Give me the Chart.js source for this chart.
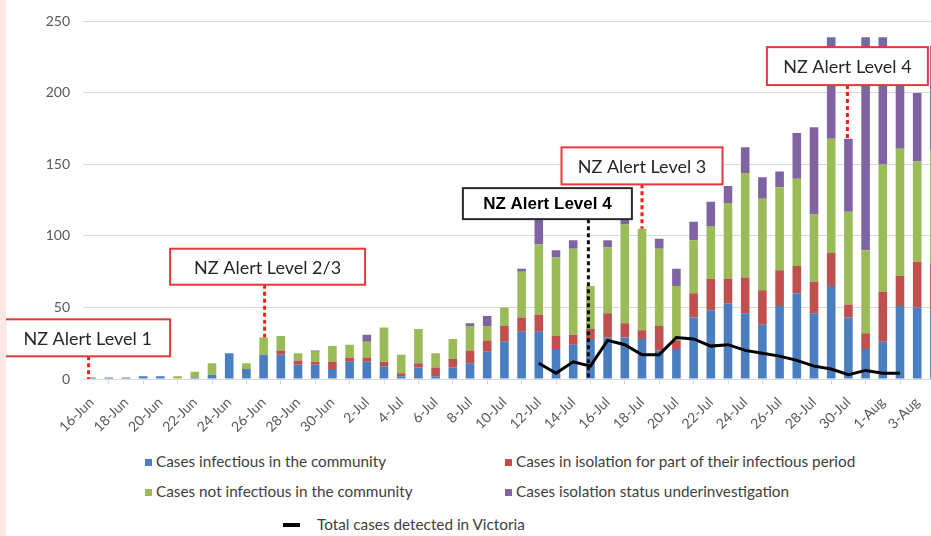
<!DOCTYPE html>
<html><head><meta charset="utf-8">
<script src="https://cdn.jsdelivr.net/npm/chart.js@4.4.1/dist/chart.umd.min.js"></script>
<style>
html,body{margin:0;padding:0;background:#fff;width:931px;height:536px;overflow:hidden;position:relative;font-family:Lato,sans-serif;}
#strip{position:absolute;left:0;top:0;width:6px;height:536px;background:#fde6e6;}
#wrap{position:absolute;left:0;top:0;width:950px;height:450px;}
.lg{position:absolute;font-size:15.3px;color:#404040;white-space:nowrap;line-height:18px;height:18px;}
.sw{display:inline-block;width:7px;height:7px;margin-right:4px;vertical-align:1px;}
.ln{display:inline-block;width:17px;height:4px;margin-right:17px;vertical-align:3px;background:#000;}
</style></head><body>
<div id="wrap"><canvas id="c" width="950" height="450"></canvas></div>
<div id="strip"></div>
<div id="legend"></div>
<script>
const dates = ['16-Jun','17-Jun','18-Jun','19-Jun','20-Jun','21-Jun','22-Jun','23-Jun','24-Jun','25-Jun','26-Jun','27-Jun','28-Jun','29-Jun','30-Jun',
 '1-Jul','2-Jul','3-Jul','4-Jul','5-Jul','6-Jul','7-Jul','8-Jul','9-Jul','10-Jul','11-Jul','12-Jul','13-Jul','14-Jul','15-Jul','16-Jul','17-Jul','18-Jul','19-Jul','20-Jul',
 '21-Jul','22-Jul','23-Jul','24-Jul','25-Jul','26-Jul','27-Jul','28-Jul','29-Jul','30-Jul','31-Jul','1-Aug','2-Aug','3-Aug','4-Aug'];
const tickLabels = ['16-Jun','18-Jun','20-Jun','22-Jun','24-Jun','26-Jun','28-Jun','30-Jun','2-Jul','4-Jul','6-Jul','8-Jul','10-Jul','12-Jul','14-Jul','16-Jul',
 '18-Jul','20-Jul','22-Jul','24-Jul','26-Jul','28-Jul','30-Jul','1-Aug','3-Aug'];
const yTicks = [0,50,100,150,200,250];

const infectious        = [1,1,1,2,2,0,1,3,18,7,17,17,10,10,7,12,12,9,2,8,2,8,11,19,26,33,33,21,24,28,29,29,28,20,21,43,48,53,46,38,51,60,46,65,43,21,26,51,50,48];
const isolationPart     = [0,0,0,0,0,0,0,0,0,0,0,3,3,2,5,3,3,3,2,3,6,6,9,8,11,10,12,9,7,7,17,10,6,17,6,17,22,17,25,24,25,19,22,23,9,11,35,21,32,33];
const notInfectious     = [0,0,0,0,0,2,4,8,0,4,12,10,5,7,11,9,11,24,13,24,10,14,17,10,13,32,49,55,60,30,46,69,71,54,38,37,37,53,73,64,58,61,47,80,65,58,89,89,70,79];
const underInvestigation= [0,0,0,0,0,0,0,0,0,0,0,0,0,1,0,0,5,0,0,0,0,0,2,7,0,2,18,5,6,0,5,4,0,7,12,13,17,12,18,15,11,32,61,71,51,149,89,54,48,73];
const victoriaTotal     = [null,null,null,null,null,null,null,null,null,null,null,null,null,null,null,null,null,null,null,null,null,null,null,null,null,null,
 11,4,12,9,27,24,17,17,29,28,23,24,20,18,16,13,9,7,3,6,4,4,null,null];

const seriesNames = ['Cases infectious in the community','Cases in isolation for part of their infectious period',
 'Cases not infectious in the community','Cases isolation status underinvestigation','Total cases detected in Victoria'];
const colors = ['#4A7EC0','#C0504D','#9BBB59','#8064A2','#000000'];

const annotations = [
 {text:'NZ Alert Level 1', at:'16-Jun', boxValue:28.8, toBarTop:false, w:165, h:37, dx:-4, lineDx:-3, border:'#e8383d', line:'#ff1a1a', font:'18px Lato', textColor:'#262626'},
 {text:'NZ Alert Level 2/3', at:'26-Jun', boxValue:78.5, toBarTop:true, w:195, h:36, dx:4, lineDx:1, border:'#e8383d', line:'#ff1a1a', font:'18px Lato', textColor:'#262626'},
 {text:'NZ Alert Level 4', at:'15-Jul', boxValue:122.6, toBarTop:false, w:169, h:31, dx:-43, lineDx:-2, border:'#2a2a2a', line:'#111', font:'bold 17px "Liberation Sans"', textColor:'#000'},
 {text:'NZ Alert Level 3', at:'18-Jul', boxValue:149, toBarTop:true, w:161, h:37, dx:0, lineDx:0, border:'#e8383d', line:'#ff1a1a', font:'18px Lato', textColor:'#262626'},
 {text:'NZ Alert Level 4', at:'30-Jul', boxValue:218.75, toBarTop:true, w:161, h:38, dx:-1, lineDx:-1, border:'#e8383d', line:'#ff1a1a', font:'18px Lato', textColor:'#262626'}
];

function stackTotal(i){ return infectious[i]+isolationPart[i]+notInfectious[i]+underInvestigation[i]; }

const alertPlugin = {
  id:'alerts',
  afterDraw(chart){
    const {ctx, scales:{x,y}} = chart;
    annotations.forEach(a=>{
      const i = dates.indexOf(a.at);
      const cx = x.getPixelForValue(i);
      const lx = cx + a.lineDx, bx = cx + a.dx;
      const by = y.getPixelForValue(a.boxValue);
      const top = by - a.h/2, bottom = by + a.h/2;
      const ty = y.getPixelForValue(a.toBarTop ? stackTotal(i) : 0);
      ctx.save();
      ctx.strokeStyle = a.line; ctx.lineWidth = 3; ctx.setLineDash([4,3]);
      ctx.beginPath(); ctx.moveTo(lx, bottom); ctx.lineTo(lx, ty); ctx.stroke();
      ctx.setLineDash([]);
      ctx.fillStyle = '#fff'; ctx.fillRect(bx - a.w/2, top, a.w, a.h);
      ctx.lineWidth = 2; ctx.strokeStyle = a.border; ctx.strokeRect(bx - a.w/2, top, a.w, a.h);
      ctx.font = a.font; ctx.fillStyle = a.textColor; ctx.textAlign = 'center'; ctx.textBaseline = 'middle';
      ctx.fillText(a.text, bx, by + 1);
      ctx.restore();
    });
  }
};

const barSeries = [infectious, isolationPart, notInfectious, underInvestigation];
const datasets = barSeries.map((d,k)=>({
  type:'bar', label:seriesNames[k], data:d, backgroundColor:colors[k], stack:'cases', order:1,
  barPercentage:0.5, categoryPercentage:1.0
}));
datasets.push({type:'line', label:seriesNames[4], data:victoriaTotal, borderColor:colors[4], backgroundColor:colors[4],
  borderWidth:3, pointRadius:0, tension:0, stack:'line', order:0, spanGaps:false});

const chart = new Chart(document.getElementById('c'), {
  type:'bar',
  data:{labels:dates, datasets},
  options:{
    responsive:false, animation:false, devicePixelRatio:1,
    layout:{padding:{top:19,right:7,left:0,bottom:0}},
    plugins:{legend:{display:false}, tooltip:{enabled:false}},
    scales:{
      x:{stacked:true, offset:true,
        grid:{display:true, drawOnChartArea:false, drawTicks:true, tickLength:5, color:'#d9d9d9'},
        border:{display:true, color:'#d9d9d9', width:1},
        ticks:{autoSkip:false, maxRotation:45, minRotation:45, padding:10, color:'#595959', font:{family:'Lato', size:14},
          callback:(v,i)=> tickLabels.includes(dates[i]) ? dates[i] : null},
        afterFit:s=>{ s.height = 71; }
      },
      y:{stacked:true, min:0, max:250,
        grid:{color:'#d9d9d9', drawTicks:false},
        border:{display:false},
        ticks:{stepSize:50, padding:13, color:'#595959', font:{family:'Lato', size:14},
          callback:v=> yTicks.includes(v) ? String(v) : null},
        afterFit:s=>{ s.width = 83; }
      }
    }
  },
  plugins:[alertPlugin]
});

// HTML legend built from the datasets
const legendPos = [[145,452],[505,452],[145,482],[505,482],[283,515]];
const lg = document.getElementById('legend');
chart.data.datasets.forEach((ds,k)=>{
  const d = document.createElement('div');
  d.className = 'lg';
  d.style.left = legendPos[k][0]+'px'; d.style.top = legendPos[k][1]+'px';
  const m = document.createElement('span');
  m.className = ds.type==='line' ? 'ln' : 'sw';
  m.style.background = ds.backgroundColor;
  d.appendChild(m);
  d.appendChild(document.createTextNode(ds.label));
  lg.appendChild(d);
});
</script>
</body></html>
